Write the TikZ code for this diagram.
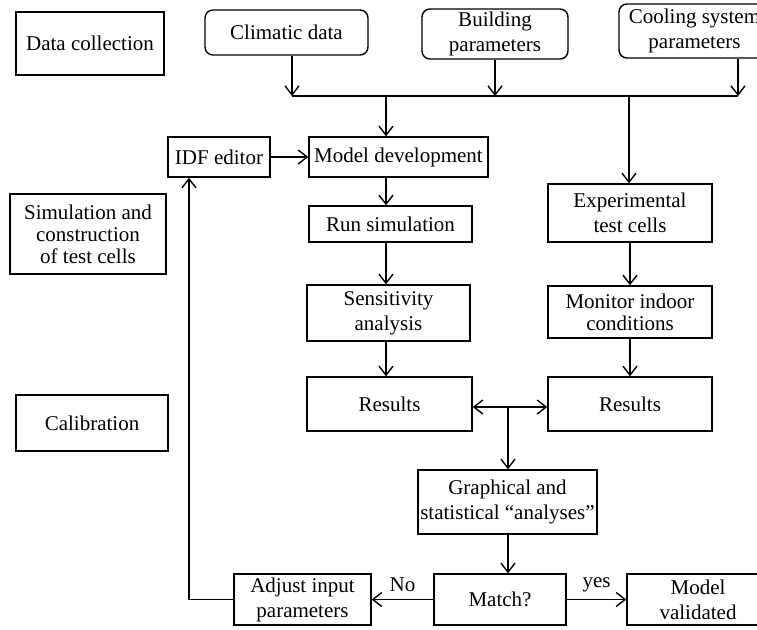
\documentclass[tikz,border=0pt]{standalone}
\usepackage{fontspec}
\setmainfont{Liberation Serif}
\usetikzlibrary{arrows.meta}

\begin{document}
\begin{tikzpicture}[x=0.5pt,y=-0.5pt,line width=0.7pt,
	>={Straight Barb[length=4.5pt,width=7pt]},
	block/.style={rectangle, draw=black, inner sep=1pt, align=center, font=\fontsize{10.5}{12.5}\selectfont},
	source/.style={block, rounded corners=4pt},
	link/.style={->}]
	\useasboundingbox (0,0) rectangle (757,629);
	\node (stagedata) at (90,43.5) [block, minimum width=74pt, minimum height=31.5pt] {Data collection};
	\node (stagesim) at (88,234) [block, minimum width=78pt, minimum height=40pt, font=\fontsize{10.5}{11}\selectfont] {Simulation and\\construction\\of test cells};
	\node (stagecal) at (92,423) [block, minimum width=76pt, minimum height=28pt] {Calibration};
	\node (climatic) at (286.5,32.5) [source, minimum width=81.5pt, minimum height=22.5pt] {Climatic data};
	\node (building) at (495,34) [source, minimum width=73pt, minimum height=25pt] {Building\\parameters};
	\node (cooling) at (694.5,31) [source, minimum width=75.5pt, minimum height=27pt] {Cooling system\\parameters};
	\node (idf) at (219,157) [block, minimum width=51pt, minimum height=20pt] {IDF editor};
	\node (modeldev) at (398.5,157) [block, minimum width=89.5pt, minimum height=20pt] {Model development};
	\node (runsim) at (390.5,224) [block, minimum width=81.5pt, minimum height=18pt] {Run simulation};
	\node (sens) at (388.5,313) [block, minimum width=81.5pt, minimum height=28pt] {Sensitivity\\analysis};
	\node (resleft) at (389.5,404) [block, minimum width=82.5pt, minimum height=27pt] {Results};
	\node (exptest) at (630,213) [block, minimum width=82pt, minimum height=29pt] {Experimental\\test cells};
	\node (monitor) at (630,312) [block, minimum width=82pt, minimum height=26pt, font=\fontsize{10.5}{11}\selectfont] {Monitor indoor\\conditions};
	\node (resright) at (630,404) [block, minimum width=82pt, minimum height=27pt] {Results};
	\node (graph) at (507.5,502) [block, minimum width=89.5pt, minimum height=32pt] {Graphical and\\statistical “analyses”};
	\node (match) at (500,599.5) [block, minimum width=66pt, minimum height=25.5pt] {Match?};
	\node (adjust) at (302.5,599.5) [block, minimum width=68.5pt, minimum height=25.5pt] {Adjust input\\parameters};
	\node (validated) at (698,599.5) [block, minimum width=71pt, minimum height=25.5pt] {Model\\validated};

	\coordinate (busL) at (292,96);
	\coordinate (busM) at (386,96);
	\coordinate (busE) at (629,96);
	\coordinate (busR) at (738,96);
	\coordinate (join) at (508,407);
	\coordinate (back) at (189,602);

	\draw (busL) -- (busR);
	\draw[link] (busL |- climatic.south) -- (busL);
	\draw[link] (building) -- (building |- busL);
	\draw[link] (busR |- cooling.south) -- (busR);
	\draw[link] (busM) -- (busM |- modeldev.north);
	\draw[link] (busE) -- (busE |- exptest.north);
	\draw[link] (idf) -- (modeldev);
	\draw[link] (busM |- modeldev.south) -- (busM |- runsim.north);
	\draw[link] (busM |- runsim.south) -- (busM |- sens.north);
	\draw[link] (busM |- sens.south) -- (busM |- resleft.north);
	\draw[link] (exptest) -- (monitor);
	\draw[link] (monitor) -- (resright);
	\draw[link] (join) -- (join -| resleft.east);
	\draw[link] (join) -- (join -| resright.west);
	\draw[link] (join) -- (join |- graph.north);
	\draw[link] (join |- graph.south) -- (join |- match.north);
	\draw[link] (match) -- node[above, font=\fontsize{10.5}{11}\selectfont] {No} (adjust);
	\draw[link] (match) -- node[above, font=\fontsize{10.5}{11}\selectfont] {yes} (validated);
	\draw[link] (adjust.west) -| (back |- idf.south);
\end{tikzpicture}
\end{document}
